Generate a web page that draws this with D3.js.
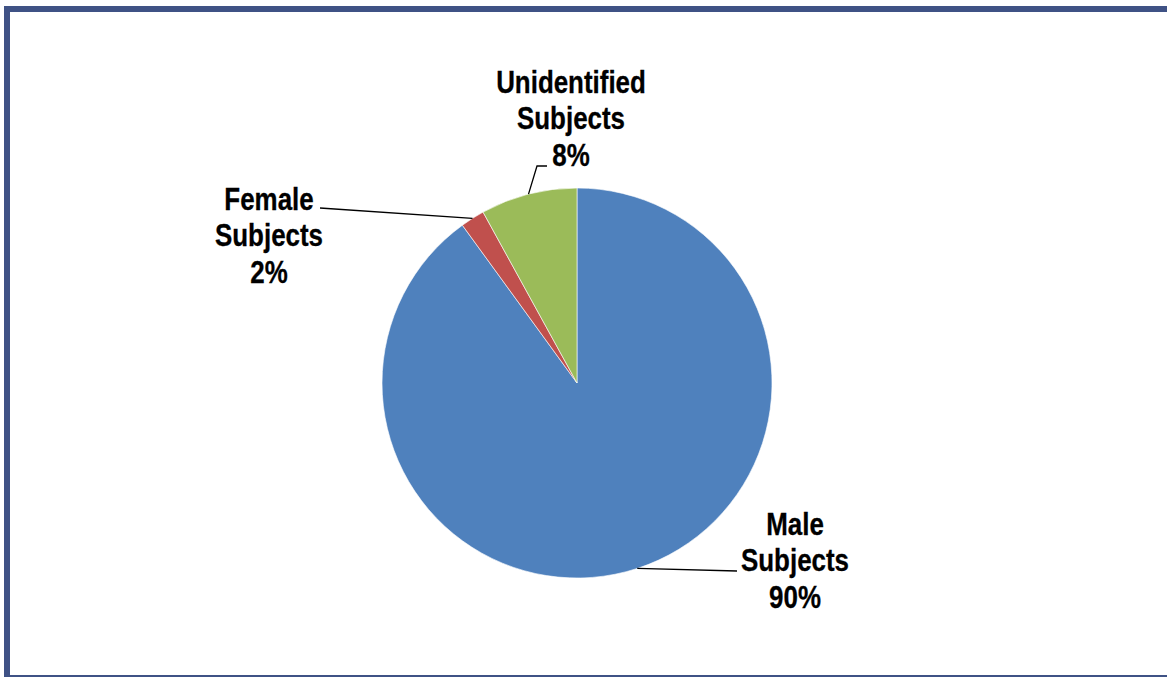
<!DOCTYPE html>
<html>
<head>
<meta charset="utf-8">
<script src="https://cdn.jsdelivr.net/npm/d3@7"></script>
<style>
  body { margin: 0; background: #fff; }
  svg { display: block; }
</style>
</head>
<body>
<script>
(function (d3) {
    'use strict';

    // data
    var categories = ['Male Subjects', 'Female Subjects', 'Unidentified Subjects'];
    var values = [90, 2, 8];
    var colors = ['#4f81bd', '#c0504d', '#9bbb59'];

    var width = 1167, height = 677;
    var svg = d3.select('body').append('svg')
        .attr('width', width)
        .attr('height', height);

    // frame (left, top, bottom edges)
    var frame = '#3f5285';
    svg.append('rect').attr('x', 4).attr('y', 6).attr('width', 6).attr('height', height - 6).attr('fill', frame);
    svg.append('rect').attr('x', 4).attr('y', 6).attr('width', width - 4).attr('height', 6).attr('fill', frame);
    svg.append('rect').attr('x', 4).attr('y', 675).attr('width', width - 4).attr('height', 2).attr('fill', frame);

    var cx = 577, cy = 383, r = 195;

    var data = categories.map(function (c, i) {
        return { name: c, value: values[i], color: colors[i] };
    });

    var pie = d3.pie().sort(null).value(function (d) { return d.value; });
    var arc = d3.arc().innerRadius(0).outerRadius(r);
    var arcs = pie(data);

    var g = svg.append('g').attr('transform', 'translate(' + cx + ',' + cy + ')');

    g.selectAll('path').data(arcs)
        .enter().append('path')
        .attr('d', arc)
        .attr('fill', function (d) { return d.data.color; })
        .attr('stroke', '#fff')
        .attr('stroke-width', 0.6);

    // label positions (relative to the pie centre) and leader shapes
    var labelPos = [
        { x: 795 - cx, y: 535 - cy, pts: [[737, 571]] },
        { x: 269 - cx, y: 210 - cy, pts: [[320, 208]] },
        { x: 571 - cx, y: 93 - cy, pts: [[537, 166], [547, 166]] }
    ];

    arcs.forEach(function (d, i) {
        var mid = (d.startAngle + d.endAngle) / 2;
        var p0 = [Math.sin(mid) * r, -Math.cos(mid) * r];
        var line = [p0].concat(labelPos[i].pts.map(function (p) { return [p[0] - cx, p[1] - cy]; }));
        g.append('path')
            .attr('d', d3.line()(line))
            .attr('fill', 'none')
            .attr('stroke', '#000')
            .attr('stroke-width', 1.3);

        var lines = d.data.name.split(' ').concat([d.data.value + '%']);
        // narrow bold look: squeeze Liberation Sans horizontally
        var t = g.append('text')
            .attr('transform', 'translate(' + labelPos[i].x + ',' + labelPos[i].y + ') scale(0.81,1)')
            .attr('text-anchor', 'middle')
            .style('font-family', '"Liberation Sans", Arial, sans-serif')
            .style('font-weight', 'bold')
            .style('font-size', '32px')
            .attr('fill', '#000')
            .attr('stroke', '#000')
            .attr('stroke-width', 0.3);
        lines.forEach(function (s, j) {
            t.append('tspan')
                .attr('x', 0)
                .attr('dy', j === 0 ? 0 : 36.5)
                .text(s);
        });
    });

})(d3);
</script>
</body>
</html>
